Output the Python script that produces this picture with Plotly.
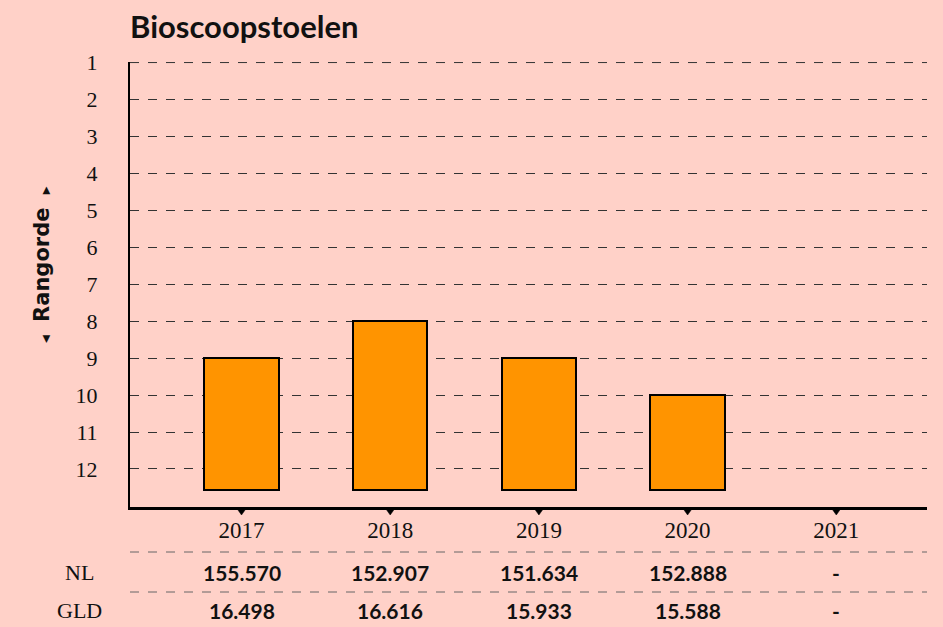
import plotly.graph_objects as go

years = ["2017", "2018", "2019", "2020", "2021"]
ranks = [9, 8, 9, 10, None]
nl_values = ["155.570", "152.907", "151.634", "152.888", "-"]
gld_values = ["16.498", "16.616", "15.933", "15.588", "-"]
row_labels = ["NL", "GLD"]

BASE = 12.57
Y_BOTTOM = 13.03
Y_TOP = 0.985
BG = "#FFD1C8"
SERIF = "Liberation Serif"
SANS = "Lato"

idx = list(range(len(years)))
bar_len = [(r - BASE) if r is not None else None for r in ranks]

fig = go.Figure()
fig.add_trace(go.Bar(
    x=idx, y=bar_len, base=BASE, width=0.5,
    marker=dict(color="#FF9400", line=dict(color="black", width=2)),
    hoverinfo="skip", showlegend=False,
))

H = 445.0
def py(pix):
    return (507 - pix) / H

shapes = [dict(type="line", xref="paper", yref="y", x0=0, x1=1, y0=1, y1=1,
               line=dict(color="#333333", width=1, dash="dash"), layer="below")]
for yy in (552, 592):
    shapes.append(dict(type="line", xref="paper", yref="paper", x0=0, x1=1,
                       y0=py(yy), y1=py(yy),
                       line=dict(color="#666666", width=1, dash="dash")))
# tick triangles under the x axis
for i in idx:
    shapes.append(dict(type="path", xref="x", yref="paper",
                       xsizemode="pixel", ysizemode="pixel", xanchor=i, yanchor=0,
                       path="M -5,-1 L 5,-1 L 0,-8 Z",
                       fillcolor="black", line=dict(color="black", width=0.5)))

annotations = []
for row, (lab, vals, yy) in enumerate(zip(row_labels, [nl_values, gld_values], [572, 610])):
    annotations.append(dict(xref="paper", yref="paper", x=-0.063, y=py(yy),
                            text=lab, showarrow=False, xanchor="center", yanchor="middle",
                            font=dict(family=SERIF, size=22, color="#111111")))
    for i, v in enumerate(vals):
        annotations.append(dict(xref="x", yref="paper", x=i, y=py(yy),
                                text="<b>" + v + "</b>", showarrow=False,
                                xanchor="center", yanchor="middle",
                                font=dict(family=SANS, size=21, color="#111111")))

annotations.append(dict(xref="paper", yref="paper", x=(42 - 130) / 797.0, y=py(265),
                        text="<span style='font-size:10px'>◀</span>  <b>Rangorde</b>  <span style='font-size:10px'>▶</span>",
                        textangle=-90, showarrow=False,
                        xanchor="center", yanchor="middle",
                        font=dict(family="DejaVu Sans", size=21, color="#111111")))

fig.update_layout(
    width=943, height=627,
    paper_bgcolor=BG, plot_bgcolor=BG,
    margin=dict(l=130, r=16, t=62, b=120),
    title=dict(text="<b>Bioscoopstoelen</b>", x=130 / 943.0, xanchor="left",
               y=1 - 27 / 627.0, yanchor="middle",
               font=dict(family=SANS, size=31, color="#111111")),
    xaxis=dict(range=[-0.75, 4.61], tickmode="array", tickvals=idx, ticktext=years,
               showgrid=False, zeroline=False, showline=True, linecolor="black",
               linewidth=2.5, ticks="", ticklabelstandoff=1,
               tickfont=dict(family=SERIF, size=23, color="#111111")),
    yaxis=dict(range=[Y_BOTTOM, Y_TOP], tickmode="array", tickvals=list(range(1, 13)),
               ticktext=[str(k) for k in range(1, 13)],
               showgrid=True, gridcolor="#333333", griddash="dash", gridwidth=1,
               zeroline=False, showline=True, linecolor="black", linewidth=2,
               ticks="", ticklabelstandoff=26,
               tickfont=dict(family=SERIF, size=22, color="#111111")),
    shapes=shapes, annotations=annotations,
    bargap=0,
)

fig.write_html("out.html", config={"displayModeBar": False})
with open("out.html", "r", encoding="utf-8") as f:
    html = f.read()
html = html.replace("<head>", "<head><style>html,body{margin:0;padding:0;background:%s;}</style>" % BG, 1)
with open("out.html", "w", encoding="utf-8") as f:
    f.write(html)
